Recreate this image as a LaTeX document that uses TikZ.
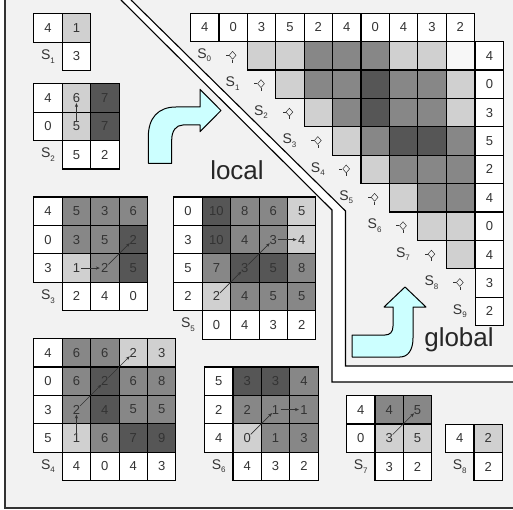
\documentclass[tikz,border=0pt]{standalone}
\usepackage{fontspec}
\setmainfont{Liberation Sans}
\usetikzlibrary{arrows.meta,shapes.geometric}
\definecolor{bg}{HTML}{F2F2F2}
\definecolor{cL}{HTML}{D0D0D0}
\definecolor{cM}{HTML}{878787}
\definecolor{cD}{HTML}{565656}
\definecolor{cV}{HTML}{F7F7F7}
\definecolor{txt}{HTML}{333333}
\definecolor{cyanfill}{HTML}{CCFFFF}
\newcommand{\Sl}[1]{S\raisebox{-3.5pt}{\fontsize{8}{8}\selectfont #1}}
\tikzset{
  cellbox/.style={draw=black, line width=1.1pt, minimum width=28.4pt, minimum height=28.4pt,
    inner sep=0pt, anchor=north west, text=txt, font=\fontsize{13}{13}\selectfont},
  sW/.style={fill=white},
  sL/.style={fill=cL},
  sM/.style={fill=cM},
  sD/.style={fill=cD},
  sV/.style={fill=cV},
  sLab/.style={draw=none, fill=none, font=\fontsize{14}{14}\selectfont},
  glab/.style={inner sep=0pt, text=txt, font=\fontsize{14}{14}\selectfont},
  dmark/.style={diamond, draw=txt, line width=0.5pt, minimum width=7pt, minimum height=8pt, inner sep=0pt},
  mv/.style={draw=txt, line width=0.6pt, -{Stealth[length=4pt,width=3.2pt]}, shorten <=5pt, shorten >=5pt},
  bigarrow/.style={draw=black, line width=1pt, fill=cyanfill, line join=round},
  band/.style={draw=black, line width=1.1pt},
  bigtext/.style={inner sep=0pt, text=black!85, font=\fontsize{26}{26}\selectfont}
}
\newcommand{\block}[4]{%
  \foreach \rowlist [count=\r] in {#4} {
    \foreach \v/\s [count=\c] in \rowlist {
      \node[cellbox, \s] (#1-\r-\c) at ({#2+(\c-1)*28.4},{#3+(\r-1)*28.4}) {\v};
    }
  }
}
\begin{document}
\begin{tikzpicture}[x=1pt, y=-1pt]
\useasboundingbox (0,0) rectangle (513,510);
% background and frame
\fill[white] (0,0) rectangle (513,510);
\fill[bg] (5,0) rectangle (513,508);
\draw[line width=1.1pt, draw=black!80] (5,0) -- (5,508) -- (513,508);
% separating band
\fill[white] (121,0) -- (332,210) -- (332,382) -- (513,382) -- (513,366) -- (345.5,366) -- (345.5,211) -- (131,0) -- cycle;
\draw[band] (121,0) -- (332,210) -- (332,382) -- (513,382);
\draw[band] (131,0) -- (345.5,211) -- (345.5,366) -- (513,366);

% big arrows
\draw[bigarrow] (148.3,163.3) -- (148.3,137) .. controls (148.3,118) and (158,107) .. (176,107)
  -- (200,107) -- (200,89.3) -- (221,110.5) -- (200,131.7) -- (200,125) -- (183,125)
  .. controls (176,125) and (171.7,131) .. (171.7,140) -- (171.7,163.3) -- cycle;
\draw[bigarrow] (352,357) -- (400,357) .. controls (408,357) and (413,350) .. (413,338)
  -- (413,307) -- (426,307) -- (405,287) -- (384,307) -- (393,307) -- (393,326)
  .. controls (393,332) and (390,335) .. (385,335) -- (352,335) -- cycle;
\node[bigtext] (loc) at (237,170) {local};
\node[bigtext] (glob) at (459,340) {global};

% local blocks
\block{s1}{33.3}{13.3}{{4/sW,1/sL},{{\Sl{1}}/sLab,3/sW}}
\block{s2}{33.3}{83.3}{{4/sW,6/sL,7/sD},{0/sW,5/sL,7/sD},{{\Sl{2}}/sLab,5/sW,2/sW}}
\block{s3}{33.3}{196.5}{{4/sW,5/sM,3/sM,6/sM},{0/sW,3/sM,5/sM,2/sD},{3/sW,1/sL,2/sM,5/sD},{{\Sl{3}}/sLab,2/sW,4/sW,0/sW}}
\block{s4}{33.3}{338}{{4/sW,6/sM,6/sM,2/sL,3/sL},{0/sW,6/sM,2/sD,6/sM,8/sM},{3/sW,2/sM,4/sD,5/sM,5/sM},{5/sW,1/sL,6/sM,7/sD,9/sD},{{\Sl{4}}/sLab,4/sW,0/sW,4/sW,3/sW}}
\block{s5}{173.3}{196.5}{{0/sW,10/sD,8/sM,6/sM,5/sL},{3/sW,10/sD,4/sM,3/sM,4/sL},{5/sW,7/sM,3/sD,5/sD,8/sM},{2/sW,2/sL,4/sM,5/sM,5/sM},{{\Sl{5}}/sLab,0/sW,4/sW,3/sW,2/sW}}
\block{s6}{204}{366.4}{{5/sW,3/sD,3/sD,4/sM},{2/sW,2/sM,1/sM,1/sM},{4/sW,0/sL,1/sM,3/sM},{{\Sl{6}}/sLab,4/sW,3/sW,2/sW}}
\block{s7}{346}{395}{{4/sW,4/sM,5/sM},{0/sW,3/sL,5/sL},{{\Sl{7}}/sLab,3/sW,2/sW}}
\block{s8}{445}{423.5}{{4/sW,2/sL},{{\Sl{8}}/sLab,2/sW}}

% moves in local blocks
\draw[mv] (s2-2-2.center) -- (s2-1-2.center);
\draw[mv] (s3-3-2.center) -- (s3-3-3.center);
\draw[mv] (s3-3-3.center) -- (s3-2-4.center);
\draw[mv] (s5-4-2.center) -- (s5-3-3.center);
\draw[mv] (s5-3-3.center) -- (s5-2-4.center);
\draw[mv] (s5-2-4.center) -- (s5-2-5.center);
\draw[mv] (s4-4-2.center) -- (s4-3-2.center);
\draw[mv] (s4-3-2.center) -- (s4-2-3.center);
\draw[mv] (s4-2-3.center) -- (s4-1-4.center);
\draw[mv] (s6-3-2.center) -- (s6-2-3.center);
\draw[mv] (s6-2-3.center) -- (s6-2-4.center);
\draw[mv] (s7-2-2.center) -- (s7-1-3.center);

% global matrix
\foreach \v [count=\c] in {4,0,3,5,2,4,0,4,3,2}
  \node[cellbox, sW] (gt\c) at ({190+(\c-1)*28.4},12.7) {\v};
\foreach \v [count=\r] in {4,0,3,5,2,4,0,4,3,2}
  \node[cellbox, sW] (gr\r) at (474.7,{41.1+(\r-1)*28.4}) {\v};
\foreach \rowlist [count=\r] in {{sL,sL,sM,sM,sM,sL,sL,sV},{sL,sM,sM,sD,sM,sM,sL},{sL,sM,sD,sM,sM,sL},{sL,sM,sD,sD,sM},{sL,sM,sM,sM},{sL,sM,sM},{sL,sL},{sL}} {
  \foreach \s [count=\k] in \rowlist {
    \pgfmathtruncatemacro\c{\r+1+\k}
    \node[cellbox, \s] (g\r-\c) at ({190+(\c-1)*28.4},{41.1+(\r-1)*28.4}) {};
  }
}
\foreach \r in {1,...,10} {
  \pgfmathtruncatemacro\n{\r-1}
  \node[glab] (gs\r) at ({190+(\r-0.5)*28.4},{41.1+(\r-0.5)*28.4}) {\Sl{\n}};
}
\foreach \r in {1,...,9} {
  \node[dmark] (gd\r) at ({190+(\r+0.5)*28.4},{41.1+(\r-0.5)*28.4}) {};
  \draw[txt, line width=0.5pt] (gd\r.west) -- ++(-3,0);
  \draw[txt, line width=0.5pt] (gd\r.south) -- ++(0,3);
}
\end{tikzpicture}
\end{document}
